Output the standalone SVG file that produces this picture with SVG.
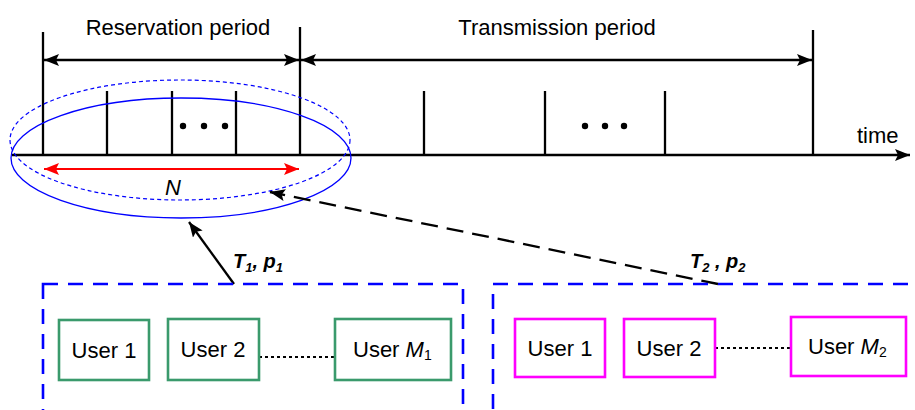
<svg xmlns="http://www.w3.org/2000/svg" width="915" height="410" viewBox="0 0 915 410">
  <style>
    .ln { stroke: #000; stroke-width: 2.3; fill: none; }
    .tick { stroke: #000; stroke-width: 2.3; }
    .lbl { font-family: "Liberation Sans", Arial, sans-serif; font-size: 22px; fill: #000; }
    .bi { font-family: "Liberation Sans", Arial, sans-serif; font-size: 20px; font-weight: bold; font-style: italic; fill: #000; }
    .grp { fill: none; stroke: #0000ff; stroke-width: 2.6; stroke-dasharray: 15 10; }
    .ug { fill: #fff; stroke: #3a9a6c; stroke-width: 2.6; }
    .um { fill: #fff; stroke: #ff00ff; stroke-width: 2.6; }
    .dot { stroke: #000; stroke-width: 2; stroke-dasharray: 3 3; }
  </style>
  <defs>
    <marker id="ah" viewBox="0 0 15 12" refX="15" refY="6" markerWidth="15" markerHeight="12" markerUnits="userSpaceOnUse" orient="auto-start-reverse">
      <path d="M0,0 L15,6 L0,12 L3,6 Z" fill="#000"/>
    </marker>
    <marker id="ahr" viewBox="0 0 15 12" refX="15" refY="6" markerWidth="15" markerHeight="12" markerUnits="userSpaceOnUse" orient="auto-start-reverse">
      <path d="M0,0 L15,6 L0,12 L3,6 Z" fill="#ff0000"/>
    </marker>
  </defs>
  <rect width="915" height="410" fill="#fff"/>

  <g id="timeline">
    <line class="ln" x1="12" y1="155" x2="910" y2="155" marker-end="url(#ah)"/>
    <line class="tick" x1="43" y1="32" x2="43" y2="155"/>
    <line class="tick" x1="300" y1="27" x2="300" y2="155"/>
    <line class="tick" x1="813" y1="30" x2="813" y2="155"/>
    <line class="tick" x1="107" y1="91" x2="107" y2="155"/>
    <line class="tick" x1="172" y1="91" x2="172" y2="155"/>
    <line class="tick" x1="236" y1="91" x2="236" y2="155"/>
    <line class="tick" x1="424" y1="91" x2="424" y2="155"/>
    <line class="tick" x1="545" y1="91" x2="545" y2="155"/>
    <line class="tick" x1="665" y1="91" x2="665" y2="155"/>
    <circle cx="183" cy="126" r="3.2"/>
    <circle cx="204" cy="126" r="3.2"/>
    <circle cx="225" cy="126" r="3.2"/>
    <circle cx="585" cy="126" r="3.2"/>
    <circle cx="605" cy="126" r="3.2"/>
    <circle cx="624" cy="126" r="3.2"/>
    <text class="lbl" x="857" y="143">time</text>
  </g>

  <g id="reservation-period">
    <line class="ln" x1="44" y1="60" x2="299" y2="60" marker-start="url(#ah)" marker-end="url(#ah)"/>
    <text class="lbl" x="178" y="35" text-anchor="middle">Reservation period</text>
  </g>

  <g id="transmission-period">
    <line class="ln" x1="301" y1="60" x2="812" y2="60" marker-start="url(#ah)" marker-end="url(#ah)"/>
    <text class="lbl" x="557" y="35" text-anchor="middle">Transmission period</text>
  </g>

  <g id="reservation-window">
    <ellipse cx="180" cy="140" rx="170" ry="60" fill="none" stroke="#0000ff" stroke-width="1.2" stroke-dasharray="4 3"/>
    <ellipse cx="181" cy="158" rx="170" ry="60" fill="none" stroke="#0000ff" stroke-width="1.3"/>
    <line x1="44" y1="169" x2="299" y2="169" stroke="#ff0000" stroke-width="2" marker-start="url(#ahr)" marker-end="url(#ahr)"/>
    <text class="lbl" x="173" y="195" text-anchor="middle" font-style="italic">N</text>
  </g>

  <g id="connectors">
    <line class="ln" x1="234" y1="284" x2="189" y2="222" marker-end="url(#ah)"/>
    <line class="ln" x1="718" y1="284" x2="270" y2="192" stroke-width="2.4" stroke-dasharray="17 9" marker-end="url(#ah)"/>
    <text class="bi" x="233" y="268">T<tspan font-size="13" dy="4">1</tspan><tspan dy="-4">, p</tspan><tspan font-size="13" dy="4">1</tspan></text>
    <text class="bi" x="690" y="268">T<tspan font-size="13" dy="4">2</tspan><tspan dy="-4"> , p</tspan><tspan font-size="13" dy="4">2</tspan></text>
  </g>

  <g id="group-1">
    <rect class="grp" x="43" y="284" width="420" height="150"/>
    <line class="dot" x1="259" y1="357" x2="335" y2="357"/>
    <g id="g1-user1">
      <rect class="ug" x="59" y="320" width="90" height="60"/>
      <text class="lbl" x="104" y="358" text-anchor="middle">User 1</text>
    </g>
    <g id="g1-user2">
      <rect class="ug" x="168" y="319" width="91" height="61"/>
      <text class="lbl" x="213" y="357" text-anchor="middle">User 2</text>
    </g>
    <g id="g1-userM1">
      <rect class="ug" x="335" y="319" width="116" height="61"/>
      <text class="lbl" x="353" y="357">User <tspan font-style="italic">M</tspan><tspan font-size="14" dy="3">1</tspan></text>
    </g>
  </g>

  <g id="group-2">
    <rect class="grp" x="493" y="284" width="450" height="150"/>
    <line class="dot" x1="715" y1="348" x2="791" y2="348"/>
    <g id="g2-user1">
      <rect class="um" x="515" y="319" width="90" height="58"/>
      <text class="lbl" x="560" y="356" text-anchor="middle">User 1</text>
    </g>
    <g id="g2-user2">
      <rect class="um" x="624" y="319" width="91" height="58"/>
      <text class="lbl" x="669" y="356" text-anchor="middle">User 2</text>
    </g>
    <g id="g2-userM2">
      <rect class="um" x="791" y="317" width="115" height="59"/>
      <text class="lbl" x="808" y="354">User <tspan font-style="italic">M</tspan><tspan font-size="14" dy="3">2</tspan></text>
    </g>
  </g>
</svg>
